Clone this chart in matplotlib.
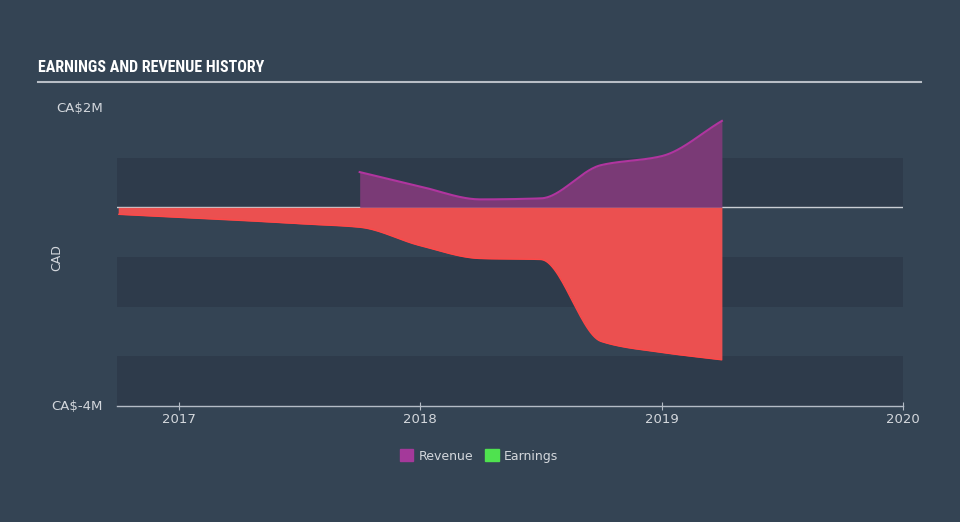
import numpy as np
import matplotlib
matplotlib.use("Agg")
import matplotlib.pyplot as plt
from matplotlib.patches import Patch
from matplotlib import font_manager

# values (CA$, quarter ends as decimal years)
revenue_dates = [2017.75, 2018.0, 2018.25, 2018.5, 2018.75, 2019.0, 2019.25]
revenue = [0.71e6, 0.42e6, 0.16e6, 0.18e6, 0.85e6, 1.03e6, 1.74e6]

earnings_dates = [2016.75, 2017.0, 2017.25, 2017.5, 2017.75, 2018.0, 2018.25,
                  2018.5, 2018.75, 2019.0, 2019.25]
earnings = [-0.14e6, -0.20e6, -0.26e6, -0.33e6, -0.40e6, -0.77e6, -1.03e6,
            -1.05e6, -2.70e6, -2.92e6, -3.07e6]

year_ticks = [2017, 2018, 2019, 2020]
y_labels = {2e6: "CA$2M", -4e6: "CA$-4M"}

BG = "#344454"
BAND = "#2e3b4b"
RED = "#eb5050"
PURPLE_FILL = "#7a3a76"
PURPLE_LINE = "#b0359f"
GREEN = "#4fe24f"
TXT = "#d3d7dc"

# pick a narrow face for the title if one is installed
installed = {f.name for f in font_manager.fontManager.ttflist}
narrow = [n for n in ["Liberation Sans Narrow", "DejaVu Sans Condensed", "Roboto Condensed",
                      "Open Sans Condensed"] if n in installed]
title_family = narrow[:1] + ["DejaVu Sans"]
title_size = 11.5 if narrow else 10


def monotone(x, y, n=300):
    # monotone cubic (Fritsch-Carlson) so the curve looks like the original
    x = np.asarray(x, float)
    y = np.asarray(y, float)
    h = np.diff(x)
    d = np.diff(y) / h
    m = np.zeros_like(y)
    m[0], m[-1] = d[0], d[-1]
    for i in range(1, len(y) - 1):
        if d[i - 1] * d[i] <= 0:
            m[i] = 0
        else:
            w1 = 2 * h[i] + h[i - 1]
            w2 = h[i] + 2 * h[i - 1]
            m[i] = (w1 + w2) / (w1 / d[i - 1] + w2 / d[i])
    xs = np.linspace(x[0], x[-1], n)
    idx = np.clip(np.searchsorted(x, xs) - 1, 0, len(x) - 2)
    t = (xs - x[idx]) / h[idx]
    h00 = 2 * t**3 - 3 * t**2 + 1
    h10 = t**3 - 2 * t**2 + t
    h01 = -2 * t**3 + 3 * t**2
    h11 = t**3 - t**2
    ys = h00 * y[idx] + h10 * h[idx] * m[idx] + h01 * y[idx + 1] + h11 * h[idx] * m[idx + 1]
    return xs, ys


fig = plt.figure(figsize=(9.6, 5.22), dpi=100, facecolor=BG)
ax = fig.add_axes([117 / 960, 1 - 406 / 522, 786 / 960, 298 / 522])
ax.set_facecolor(BG)
ax.set_xlim(2016.745, 2020.0)
ax.set_ylim(-4e6, 2e6)

for lo, hi in [(0, 1e6), (-2e6, -1e6), (-4e6, -3e6)]:
    ax.axhspan(lo, hi, color=BAND, lw=0, zorder=0)

ax.axhline(0, color="#c9ced4", lw=1, zorder=1)

rx, ry = monotone(revenue_dates, revenue)
ax.fill_between(rx, 0, ry, color=PURPLE_FILL, lw=0, zorder=2)
ax.plot(rx, ry, color=PURPLE_LINE, lw=1.5, zorder=3)

ex, ey = monotone(earnings_dates, earnings)
ax.fill_between(ex, 0, ey, color=RED, lw=0, zorder=2)
ax.plot(ex, ey, color="#ff4848", lw=1, zorder=3, solid_capstyle="butt")

for s in ["top", "right", "left"]:
    ax.spines[s].set_visible(False)
ax.spines["bottom"].set_color("#b4bcc6")
ax.spines["bottom"].set_linewidth(1)
ax.set_xticks(year_ticks)
ax.set_xticklabels([str(y) for y in year_ticks])
ax.tick_params(axis="x", colors="#b4bcc6", labelcolor=TXT, labelsize=9.5,
               length=6, direction="inout", pad=2)
ax.set_yticks(list(y_labels.keys()))
ax.set_yticklabels(list(y_labels.values()))
ax.tick_params(axis="y", length=0, labelcolor=TXT, labelsize=9.5, pad=10)
for lab in ax.get_yticklabels():
    lab.set_verticalalignment("center")

fig.text(57 / 960, 1 - 258 / 522, "CAD", rotation=90, color=TXT, fontsize=9,
         ha="center", va="center")

# title and rule
fig.text(38 / 960, 1 - 68 / 522, "EARNINGS AND REVENUE HISTORY",
         family=title_family, fontweight="bold", fontstretch="condensed",
         fontsize=title_size, color="white", ha="left", va="center")
fig.add_artist(plt.Line2D([38 / 960, 921 / 960], [1 - 82 / 522, 1 - 82 / 522],
                          color="#b8bec6", lw=1.5))

handles = [Patch(color="#a4399a", label="Revenue"), Patch(color=GREEN, label="Earnings")]
leg = fig.legend(handles=handles, loc="center", bbox_to_anchor=(479 / 960, 1 - 456 / 522),
                 ncol=2, frameon=False, fontsize=9, handlelength=1.1, handleheight=1.1,
                 handletextpad=0.4, columnspacing=1.0)
for t in leg.get_texts():
    t.set_color(TXT)

fig.savefig("out.png", dpi=100, facecolor=BG)
